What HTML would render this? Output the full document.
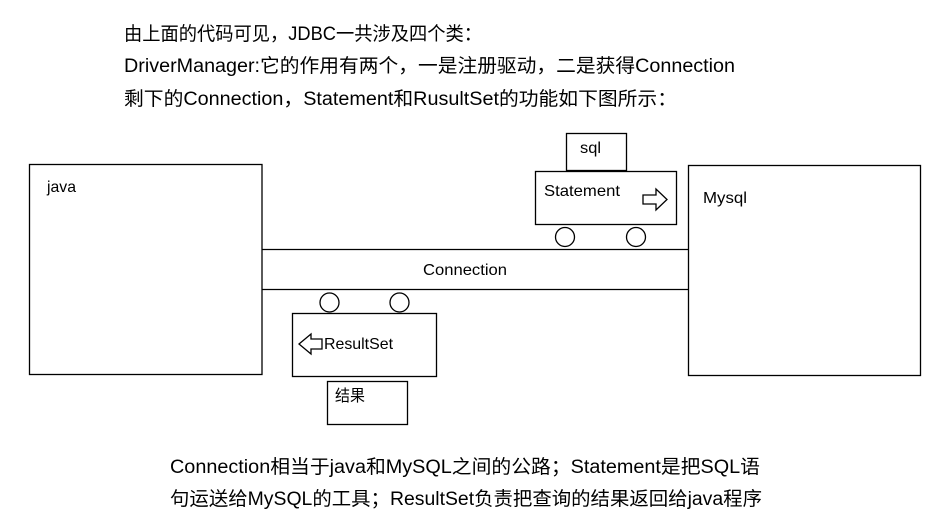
<!DOCTYPE html>
<html><head><meta charset="utf-8"><style>
html,body{margin:0;padding:0;background:#fff;width:950px;height:519px;overflow:hidden}
svg{display:block}
text{font-family:"Liberation Sans","Noto Sans CJK SC",sans-serif;fill:#000}
</style></head><body>
<svg width="950" height="519" viewBox="0 0 950 519" xmlns="http://www.w3.org/2000/svg">
<g font-size="19">
<text x="124" y="40" textLength="358" lengthAdjust="spacingAndGlyphs">由上面的代码可见，JDBC一共涉及四个类：</text>
<text x="124" y="72" textLength="611" lengthAdjust="spacingAndGlyphs">DriverManager:它的作用有两个，一是注册驱动，二是获得Connection</text>
<text x="124" y="105" textLength="553" lengthAdjust="spacingAndGlyphs">剩下的Connection，Statement和RusultSet的功能如下图所示：</text>
<text x="170" y="473" textLength="590" lengthAdjust="spacingAndGlyphs">Connection相当于java和MySQL之间的公路；Statement是把SQL语</text>
<text x="170" y="505" textLength="592" lengthAdjust="spacingAndGlyphs">句运送给MySQL的工具；ResultSet负责把查询的结果返回给java程序</text>
</g>
<g fill="none" stroke="#000" stroke-width="1.3">
<rect x="29.5" y="164.5" width="232.5" height="210"/>
<rect x="688.5" y="165.5" width="232" height="210"/>
<line x1="262" y1="249.5" x2="688" y2="249.5"/>
<line x1="262" y1="289.5" x2="688" y2="289.5"/>
<rect x="566.5" y="133.5" width="60" height="37"/>
<rect x="535.5" y="171.5" width="141" height="53"/>
<circle cx="565" cy="237" r="9.5"/>
<circle cx="636" cy="237" r="9.5"/>
<rect x="292.5" y="313.5" width="144" height="63"/>
<circle cx="329.5" cy="302.5" r="9.5"/>
<circle cx="399.5" cy="302.5" r="9.5"/>
<rect x="327.5" y="381.5" width="80" height="43"/>
<polygon points="643,195 656,195 656,189 667,199.5 656,210 656,204 643,204"/>
<polygon points="322,339 311,339 311,334 299,344 311,354 311,349 322,349"/>
</g>
<g font-size="16">
<text x="47" y="192" textLength="29" lengthAdjust="spacingAndGlyphs">java</text>
<text x="703" y="203" textLength="44" lengthAdjust="spacingAndGlyphs">Mysql</text>
<text x="580" y="153" textLength="21" lengthAdjust="spacingAndGlyphs">sql</text>
<text x="544" y="196" textLength="76" lengthAdjust="spacingAndGlyphs">Statement</text>
<text x="423" y="275" textLength="84" lengthAdjust="spacingAndGlyphs">Connection</text>
<text x="324" y="349" textLength="69" lengthAdjust="spacingAndGlyphs">ResultSet</text>
<text x="335" y="401" textLength="30" lengthAdjust="spacingAndGlyphs">结果</text>
</g>
</svg>
</body></html>
